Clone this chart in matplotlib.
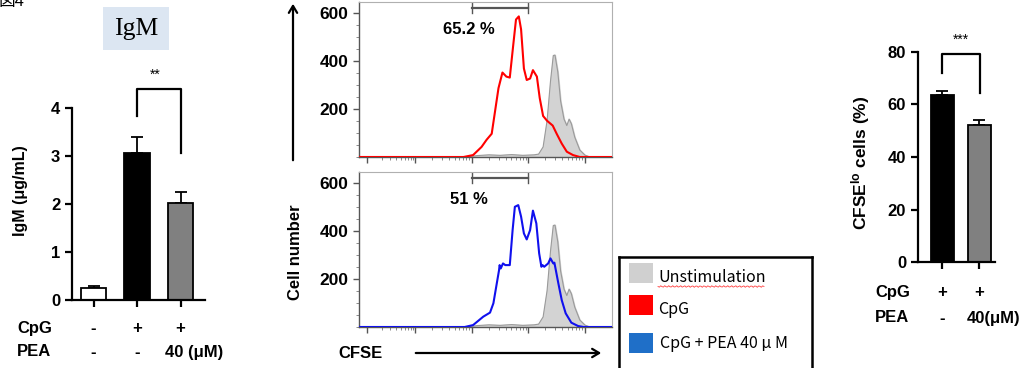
import numpy as np
import matplotlib
matplotlib.use("Agg")
import matplotlib.pyplot as plt
import matplotlib.transforms as mtransforms
from matplotlib.patches import Rectangle, FancyArrowPatch
from matplotlib.ticker import FixedLocator, MultipleLocator

plt.rcParams['font.family'] = ['Liberation Sans', 'DejaVu Sans']
plt.rcParams['font.weight'] = 'bold'
plt.rcParams['axes.labelweight'] = 'bold'
plt.rcParams['mathtext.fontset'] = 'custom'
plt.rcParams['mathtext.rm'] = 'Liberation Sans:bold'
plt.rcParams['mathtext.it'] = 'Liberation Sans:bold'
plt.rcParams['mathtext.bf'] = 'Liberation Sans:bold'

# ---------------- data ----------------
# IgM ELISA
igm_cpg = ["-", "+", "+"]
igm_pea = ["-", "-", "40 (μM)"]
igm_mean = [0.25, 3.07, 2.02]
igm_err = [0.05, 0.33, 0.22]
igm_colors = ["white", "black", "#808080"]

# CFSE histograms (x in decades of CFSE intensity)
red_x = [0.0, 1.85, 2.02, 2.17, 2.26, 2.35, 2.41, 2.47, 2.54, 2.61, 2.67, 2.73, 2.78,
         2.83, 2.87, 2.92, 2.97, 3.03, 3.08, 3.15, 3.20, 3.26, 3.33, 3.43, 3.50, 3.59,
         3.68, 3.79, 3.91, 4.48]
red_y = [0, 0, 8, 42, 72, 97, 192, 287, 352, 335, 331, 464, 573,
         586, 532, 369, 321, 327, 362, 335, 246, 171, 151, 131, 97, 56,
         22, 8, 0, 0]

blue_x = [0.0, 1.87, 2.02, 2.20, 2.32, 2.38, 2.44, 2.48, 2.49, 2.51, 2.55, 2.59, 2.67,
          2.72, 2.76, 2.82, 2.87, 2.92, 2.97, 3.03, 3.08, 3.14, 3.19, 3.23, 3.25, 3.28,
          3.35, 3.39, 3.44, 3.46, 3.53, 3.59, 3.66, 3.76, 3.88, 3.98, 4.48]
blue_y = [0, 0, 8, 43, 60, 99, 182, 237, 258, 244, 265, 258, 258,
          404, 501, 508, 460, 390, 365, 404, 485, 432, 307, 251, 258, 251,
          265, 286, 265, 268, 182, 112, 57, 18, 4, 0, 0]

gray_x = [1.9, 2.1, 2.3, 2.5, 2.7, 2.9, 3.1, 3.18, 3.26, 3.33, 3.39, 3.44, 3.47,
          3.52, 3.57, 3.63, 3.68, 3.72, 3.76, 3.82, 3.91, 4.0, 4.09]
gray_y = [0, 6, 9, 7, 10, 7, 9, 12, 42, 151, 314, 423, 425,
          355, 233, 158, 131, 158, 139, 83, 29, 8, 0]

gate_lo, gate_hi = 2.0, 3.0
gate_pct = ["65.2 %", "51 %"]

# CFSE lo bar chart
cfse_cpg = ["+", "+"]
cfse_pea = ["-", "40(μM)"]
cfse_mean = [63.6, 52.2]
cfse_err = [1.5, 1.9]
cfse_colors = ["black", "#808080"]

legend_labels = ["Unstimulation", "CpG", "CpG + PEA 40 μ M"]
legend_colors = ["#d0d0d0", "#ff0000", "#1f6fc8"]

# ---------------- layout helpers (pixels) ----------------
W, H = 1029, 368
fig = plt.figure(figsize=(W / 100, H / 100), dpi=100)


def add_ax(x0, y0, x1, y1):
    return fig.add_axes([x0 / W, 1 - y1 / H, (x1 - x0) / W, (y1 - y0) / H])


def fx(x):
    return x / W


def fy(y):
    return 1 - y / H


def style_bar_axes(ax):
    for s in ["top", "right"]:
        ax.spines[s].set_visible(False)
    for s in ["left", "bottom"]:
        ax.spines[s].set_linewidth(1.6)
    ax.tick_params(width=1.6, length=5, labelsize=12)
    ax.patch.set_alpha(0)


# ---------------- IgM panel ----------------
ax1 = add_ax(72, 108, 205, 300)
xpos = np.arange(len(igm_mean))
ax1.bar(xpos, igm_mean, width=0.58, color=igm_colors, edgecolor="black", linewidth=1.3, zorder=2)
ax1.errorbar(xpos, igm_mean, yerr=[np.zeros(3), igm_err], fmt="none", ecolor="black",
             elinewidth=1.3, capsize=4.3, capthick=1.3, zorder=1)
ax1.set_xlim(-0.494, 2.56)
ax1.set_ylim(0, 4)
ax1.set_yticks([0, 1, 2, 3, 4])
ax1.set_xticks(xpos)
ax1.set_xticklabels([])
style_bar_axes(ax1)
ax1.set_ylabel("IgM (μg/mL)", fontsize=11.5)
ax1.yaxis.set_label_coords(-0.33, 0.57)
# significance bracket
ax1.plot([1, 1, 2, 2], [3.83, 4.4, 4.4, 3.06], color="black", lw=1.6, clip_on=False)
ax1.text(1.42, 4.69, "**", ha="center", va="center", fontsize=10, fontweight="normal")

tr1 = mtransforms.blended_transform_factory(ax1.transData, fig.transFigure)
fig.text(fx(17), fy(328), "CpG", fontsize=12, va="center", ha="left")
fig.text(fx(17), fy(352), "PEA", fontsize=12, va="center", ha="left")
for i, (c, p) in enumerate(zip(igm_cpg, igm_pea)):
    ax1.text(i, fy(328), c, transform=tr1, ha="center", va="center", fontsize=12)
    if i == 2:
        ax1.text(i - 0.35, fy(352), p, transform=tr1, ha="left", va="center", fontsize=12)
    else:
        ax1.text(i, fy(352), p, transform=tr1, ha="center", va="center", fontsize=12)

# title box
fig.patches.append(Rectangle((fx(103), fy(50)), fx(66), 43 / H, transform=fig.transFigure,
                             facecolor="#dce6f2", edgecolor="none"))
fig.text(fx(136), fy(29), "IgM", family="Liberation Serif", fontweight="normal",
         fontsize=18.5, ha="center", va="center")
fig.text(fx(-2), fy(6), "図4", family=["Noto Sans CJK JP", "DejaVu Sans"], fontweight="normal",
         fontsize=12, ha="left", va="baseline")


# ---------------- histograms ----------------
def style_hist(ax):
    ax.set_xlim(0.0, 4.48)
    ax.set_ylim(0, 646)
    ax.set_yticks([200, 400, 600])
    ax.yaxis.set_minor_locator(MultipleLocator(50))
    ax.xaxis.set_major_locator(FixedLocator([0.15, 1, 2, 3, 4]))
    minors = [d + np.log10(k) for d in range(1, 4) for k in range(2, 10)]
    minors += [0.15 + 0.85 * np.log10(k) for k in range(2, 10)]
    ax.xaxis.set_minor_locator(FixedLocator(minors))
    ax.set_xticklabels([])
    ax.tick_params(axis="y", labelsize=12.5, length=4, width=1.0, color="#555555")
    ax.tick_params(axis="x", length=4, width=1.0, color="#555555")
    ax.tick_params(which="minor", length=2, width=0.6, color="#777777")
    for s in ["left", "bottom"]:
        ax.spines[s].set_color("#555555")
        ax.spines[s].set_linewidth(1.0)
    for s in ["top", "right"]:
        ax.spines[s].set_color("#b0b0b0")
        ax.spines[s].set_linewidth(0.8)


def gate(ax, label):
    ax.plot([gate_lo, gate_hi], [622, 622], color="#555555", lw=1.6)
    ax.plot([gate_lo, gate_lo], [600, 644], color="#555555", lw=1.0)
    ax.plot([gate_hi, gate_hi], [600, 644], color="#555555", lw=1.0)
    ax.text(1.95, 530, label, ha="center", va="center", fontsize=12)


def hist_panel(box, line_x, line_y, line_color, label):
    ax = add_ax(*box)
    ax.fill_between(gray_x, gray_y, color="#d3d3d3", zorder=1)
    ax.plot(gray_x, gray_y, color="#9a9a9a", lw=0.8, zorder=2)
    ax.plot(line_x, line_y, color=line_color, lw=1.5, zorder=3, solid_joinstyle="round")
    style_hist(ax)
    gate(ax, label)
    return ax


ax_top = hist_panel((359, 2, 612, 157), red_x, red_y, "#ff0000", gate_pct[0])
ax_bot = hist_panel((359, 172, 612, 327), blue_x, blue_y, "#1010ee", gate_pct[1])

fig.text(fx(295), fy(252), "Cell number", rotation=90, fontsize=12, ha="center", va="center")
fig.text(fx(338), fy(353), "CFSE", fontsize=12, ha="left", va="center")
fig.patches.append(FancyArrowPatch(
    (fx(293), fy(163)), (fx(293), fy(1)), transform=fig.transFigure,
    arrowstyle="->,head_length=5,head_width=3", color="black", lw=1.6))
fig.patches.append(FancyArrowPatch(
    (fx(413), fy(353)), (fx(604), fy(353)), transform=fig.transFigure,
    arrowstyle="->,head_length=5,head_width=3", color="black", lw=1.6))

# legend box
axl = add_ax(619, 257, 812, 372)
axl.set_xlim(619, 812)
axl.set_ylim(372, 257)
axl.set_xticks([])
axl.set_yticks([])
for s in axl.spines.values():
    s.set_linewidth(1.8)
    s.set_color("black")
sq_tops = [263, 295, 333]
text_y = [278, 310, 344]
for i, (lab, col) in enumerate(zip(legend_labels, legend_colors)):
    axl.add_patch(Rectangle((629, sq_tops[i]), 24, 20, facecolor=col, edgecolor="none"))
    axl.text(658 if i < 2 else 660, text_y[i], lab, family=["Noto Sans CJK JP", "DejaVu Sans"],
             fontweight="normal", fontsize=11.5, ha="left", va="center")
wx = np.linspace(658, 764, 80)
axl.plot(wx, 286.5 + 0.8 * np.sin((wx - 658) * 1.6), color="#ff4040", lw=0.6)

# ---------------- CFSE lo bar panel ----------------
ax3 = add_ax(918, 51.7, 995, 262.3)
xpos3 = np.arange(len(cfse_mean))
ax3.bar(xpos3, cfse_mean, width=0.62, color=cfse_colors, edgecolor="black", linewidth=1.3, zorder=2)
ax3.errorbar(xpos3, cfse_mean, yerr=[np.zeros(2), cfse_err], fmt="none", ecolor="black",
             elinewidth=1.3, capsize=4.3, capthick=1.3, zorder=1)
ax3.set_xlim(-0.65, 1.43)
ax3.set_ylim(0, 80)
ax3.set_yticks([0, 20, 40, 60, 80])
ax3.set_xticks(xpos3)
ax3.set_xticklabels([])
style_bar_axes(ax3)
ax3.set_ylabel(r"CFSE$^{\mathrm{lo}}$ cells (%)", fontsize=12.5)
ax3.yaxis.set_label_coords(-0.60, 0.47)
ax3.plot([0, 0, 1.03, 1.03], [71.8, 79.2, 79.2, 64.2], color="black", lw=1.6, clip_on=False)
ax3.text(0.5, 84.5, "***", ha="center", va="center", fontsize=10, fontweight="normal")

tr3 = mtransforms.blended_transform_factory(ax3.transData, fig.transFigure)
fig.text(fx(875), fy(292), "CpG", fontsize=12, va="center", ha="left")
fig.text(fx(875), fy(318), "PEA", fontsize=12, va="center", ha="left")
for i, (c, p) in enumerate(zip(cfse_cpg, cfse_pea)):
    ax3.text(i, fy(292), c, transform=tr3, ha="center", va="center", fontsize=12)
    if i == 1:
        ax3.text(i - 0.32, fy(318), p, transform=tr3, ha="left", va="center", fontsize=12)
    else:
        ax3.text(i, fy(318), p, transform=tr3, ha="center", va="center", fontsize=12)

fig.savefig("out.png", dpi=100)
